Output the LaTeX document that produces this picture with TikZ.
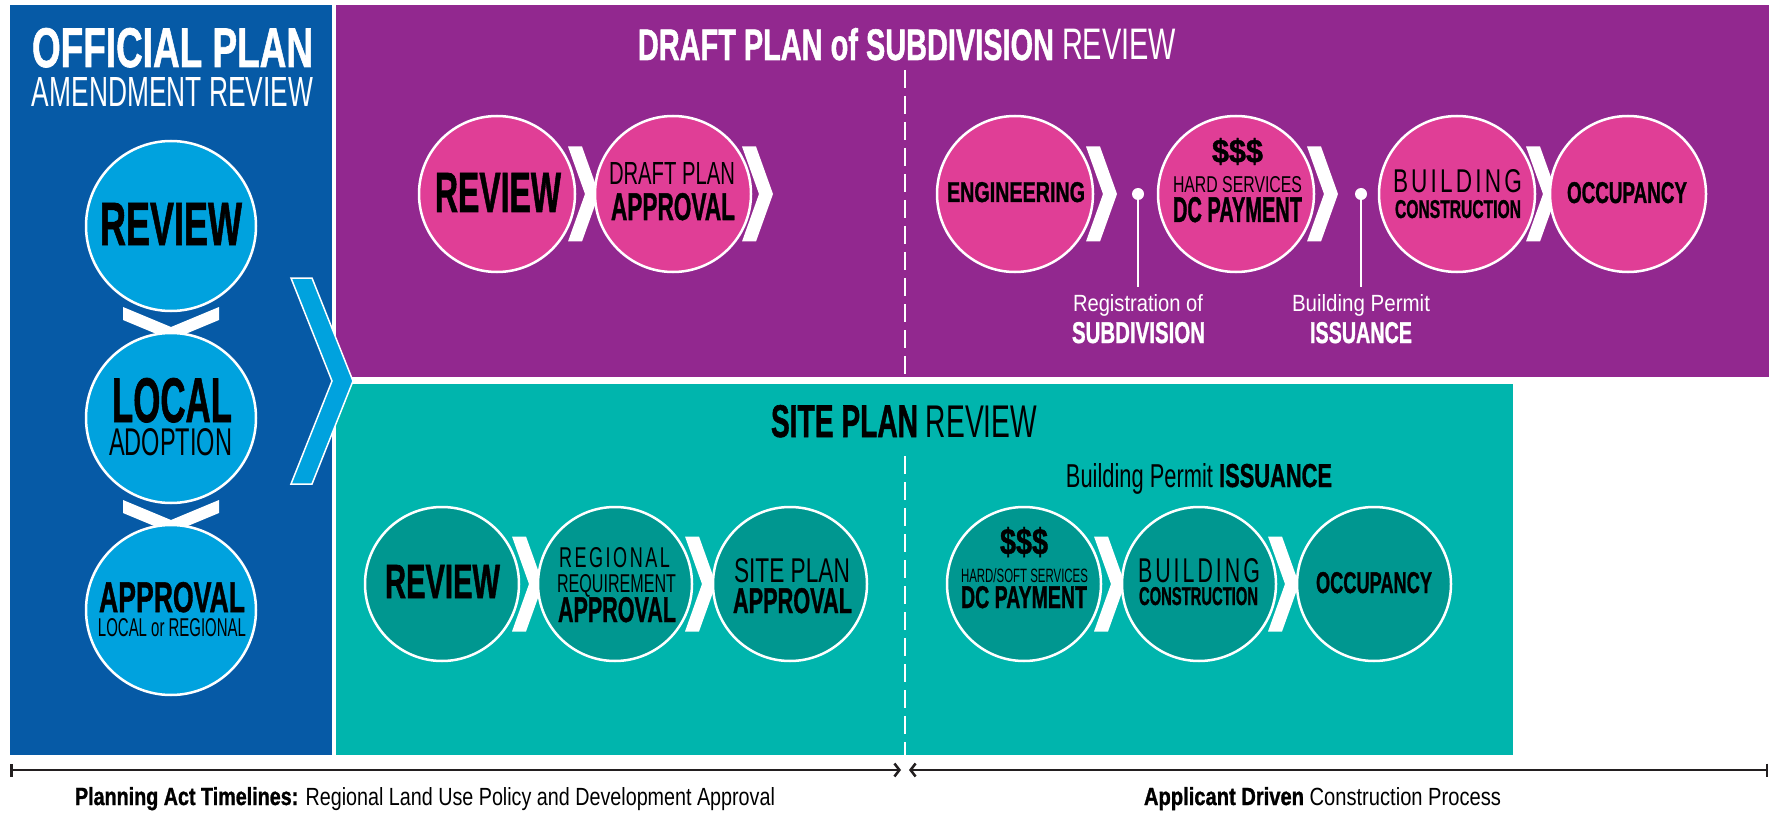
\documentclass[tikz,border=0pt]{standalone}
\usepackage{fontspec}
\setmainfont{Liberation Sans}[BoldFeatures={FakeBold=1.3}]
\usepackage{graphicx}
\usetikzlibrary{arrows.meta}
\definecolor{opblue}{RGB}{6,90,166}
\definecolor{ltblue}{RGB}{0,162,222}
\definecolor{dpurple}{RGB}{146,40,143}
\definecolor{dpink}{RGB}{224,62,150}
\definecolor{lteal}{RGB}{0,181,173}
\definecolor{dteal}{RGB}{0,151,144}
\definecolor{tline}{RGB}{35,31,32}
\newcommand{\fitt}[3]{\resizebox{#1pt}{#2pt}{#3}}
\newcommand{\fitd}[3]{\resizebox*{#1pt}{#2pt}{#3}}
\newcommand{\spc}{\hspace{0.14em}}
\begin{document}
\begin{tikzpicture}[x=1pt,y=-1pt,
  txt/.style={anchor=base,inner sep=0,outer sep=0,text=black},
  wtxt/.style={txt,text=white},
  bc/.style={circle,draw=white,line width=2.5pt,fill=ltblue,minimum size=170pt,inner sep=0},
  pc/.style={circle,draw=white,line width=2.5pt,fill=dpink,minimum size=156pt,inner sep=0},
  tc/.style={circle,draw=white,line width=2.5pt,fill=dteal,minimum size=154pt,inner sep=0},
  pindot/.style={circle,fill=white,minimum size=12pt,inner sep=0},
  pinline/.style={draw=white,line width=2pt},
  divline/.style={draw=white,line width=2pt,dash pattern=on 18pt off 8pt},
  tl/.style={draw=tline,line width=2.5pt},
  chev/.pic={\fill[white] (0,-47.5) -- (14,-47.5) -- (31,0) -- (14,47.5) -- (0,47.5) -- (17,0) -- cycle;},
  chevdown/.pic={\fill[white] (-48,0) -- (0,20) -- (48,0) -- (48,13) -- (0,33) -- (-48,13) -- cycle;}
]
\useasboundingbox (0,0) rectangle (1770,813);
\fill[white] (0,0) rectangle (1770,813);
% panels
\fill[opblue] (10,5) rectangle (332,755);
\fill[dpurple] (336,5) rectangle (1769,377);
\fill[lteal] (336,384) rectangle (1513,755);
% divider
\coordinate (dv1) at (905,70);
\coordinate (dv2) at (905,377);
\coordinate (dv3) at (905,456);
\coordinate (dv4) at (905,755);
\draw[divline] (dv1) -- (dv2);
\draw[divline] (dv3) -- (dv4);
% blue column
\node[wtxt] (opt1) at (172.5,67) {\fitt{281}{39}{\bfseries OFFICIAL PLAN}};
\node[wtxt] (opt2) at (172.5,107) {\fitt{281}{29}{AMENDMENT REVIEW}};
\pic at (171,307) {chevdown};
\pic at (171,500) {chevdown};
\node[bc] (b1) at (171,226) {};
\node[bc] (b2) at (171,418) {};
\node[bc] (b3) at (171,610) {};
\node[txt] (b1t) at (171,245) {\fitt{142}{42}{\bfseries REVIEW}};
\node[txt] (b2t) at (172,422) {\fitt{120}{44}{\bfseries LOCAL}};
\node[txt] (b2s) at (170.5,455) {\fitt{123}{27}{ADOPTION}};
\node[txt] (b3t) at (172,612) {\fitt{146}{30}{\bfseries APPROVAL}};
\node[txt] (b3s) at (172,636) {\fitt{148}{18}{LOCAL or REGIONAL}};
% purple: draft plan of subdivision
\node[wtxt] (dpt) at (907,60) {\fitt{538}{32}{\bfseries DRAFT PLAN of SUBDIVISION \mdseries REVIEW}};
\pic at (568,194) {chev};
\pic at (742,194) {chev};
\pic at (1086,194) {chev};
\pic at (1307,194) {chev};
\pic at (1526,194) {chev};
\node[pc] (p1) at (497,194) {};
\node[pc] (p2) at (673,194) {};
\node[pc] (p3) at (1015,194) {};
\node[pc] (p4) at (1236,194) {};
\node[pc] (p5) at (1457,194) {};
\node[pc] (p6) at (1628,194) {};
\node[txt] (p1t) at (498,212) {\fitt{126}{39}{\bfseries REVIEW}};
\node[txt] (p2s) at (672,185) {\fitt{126}{22}{DRAFT PLAN}};
\node[txt] (p2t) at (673,220) {\fitt{124}{27}{\bfseries APPROVAL}};
\node[txt] (p3t) at (1016,202) {\fitt{138}{20}{\bfseries ENGINEERING}};
\node[txt,anchor=north] (p4d) at (1237.5,138) {\fitd{51}{27}{\bfseries\$\$\$}};
\node[txt] (p4s) at (1237.5,193) {\fitt{129}{16}{HARD SERVICES}};
\node[txt] (p4t) at (1237.5,222) {\fitt{129}{25}{\bfseries DC PAYMENT}};
\node[txt] (p5s) at (1457.5,193) {\fitt{129}{23}{B\spc U\spc I\spc L\spc D\spc I\spc N\spc G}};
\node[txt] (p5t) at (1458,218) {\fitt{126}{18}{\bfseries CONSTRUCTION}};
\node[txt] (p6t) at (1627,203) {\fitt{120}{21}{\bfseries OCCUPANCY}};
% pins
\node[pindot] (pin1) at (1138,194) {};
\node[pindot] (pin2) at (1361,194) {};
\coordinate (pe1) at (1138,287);
\coordinate (pe2) at (1361,287);
\draw[pinline] (pin1.center) -- (pe1);
\draw[pinline] (pin2.center) -- (pe2);
\node[wtxt] (reg1) at (1138,311) {\fitt{130}{17}{Registration of}};
\node[wtxt] (reg2) at (1138.5,343) {\fitt{133}{21}{\bfseries SUBDIVISION}};
\node[wtxt] (bp1) at (1361,311) {\fitt{138}{17}{Building Permit}};
\node[wtxt] (bp2) at (1361,343) {\fitt{102}{21}{\bfseries ISSUANCE}};
% teal: site plan
\node[txt] (spt) at (904,437) {\fitt{266}{32}{\bfseries SITE PLAN \mdseries REVIEW}};
\node[txt] (bpt) at (1199,487) {\fitt{266}{24}{Building Permit \bfseries ISSUANCE}};
\pic at (512,584) {chev};
\pic at (685,584) {chev};
\pic at (1094,584) {chev};
\pic at (1268,584) {chev};
\node[tc] (s1) at (442,584) {};
\node[tc] (s2) at (615,584) {};
\node[tc] (s3) at (790,584) {};
\node[tc] (s4) at (1024,584) {};
\node[tc] (s5) at (1199,584) {};
\node[tc] (s6) at (1374,584) {};
\node[txt] (s1t) at (442.5,598) {\fitt{115}{33}{\bfseries REVIEW}};
\node[txt] (s2a) at (614.5,567) {\fitt{111}{20}{R\spc E\spc G\spc I\spc O\spc N\spc A\spc L}};
\node[txt] (s2b) at (616.5,592) {\fitt{119}{18}{REQUIREMENT}};
\node[txt] (s2t) at (617,622) {\fitt{118}{25}{\bfseries APPROVAL}};
\node[txt] (s3s) at (792,582) {\fitt{116}{24}{SITE PLAN}};
\node[txt] (s3t) at (792.5,613) {\fitt{119}{25}{\bfseries APPROVAL}};
\node[txt,anchor=north] (s4d) at (1024,527) {\fitd{48}{30}{\bfseries\$\$\$}};
\node[txt] (s4s) at (1024.5,582) {\fitt{127}{14}{HARD/SOFT SERVICES}};
\node[txt] (s4t) at (1024,608) {\fitt{126}{22}{\bfseries DC PAYMENT}};
\node[txt] (s5s) at (1199,582) {\fitt{122}{24}{B\spc U\spc I\spc L\spc D\spc I\spc N\spc G}};
\node[txt] (s5t) at (1198.5,605) {\fitt{119}{18}{\bfseries CONSTRUCTION}};
\node[txt] (s6t) at (1374,593) {\fitt{116}{21}{\bfseries OCCUPANCY}};
% big chevron from the blue column
\filldraw[fill=ltblue,draw=white,line width=1.5pt] (291,278) -- (312,278) -- (353,381) -- (312,484) -- (291,484) -- (332,381) -- cycle;
% timelines
\coordinate (ta) at (10,770);
\coordinate (tb) at (901,770);
\coordinate (tc) at (909,770);
\coordinate (td) at (1768,770);
\draw[tl,{Bar[width=13pt]}-{Straight Barb[length=5pt,width=13pt]}] (ta) -- (tb);
\draw[tl,{Straight Barb[length=5pt,width=13pt]}-{Bar[width=13pt]}] (tc) -- (td);
\node[txt] (tl1) at (425,805) {\fitt{700}{18}{\bfseries Planning Act Timelines: \mdseries Regional Land Use Policy and Development Approval}};
\node[txt] (tl2) at (1322.5,805) {\fitt{357}{18}{\bfseries Applicant Driven \mdseries Construction Process}};
\end{tikzpicture}
\end{document}
